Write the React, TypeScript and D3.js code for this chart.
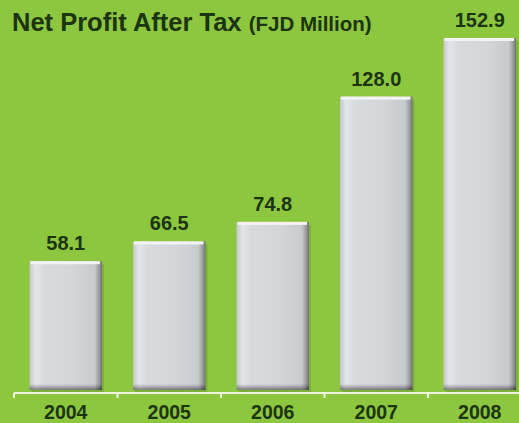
import React, { useEffect, useRef } from 'react';
import * as d3 from 'd3';

const years = ['2004', '2005', '2006', '2007', '2008'];
const profits = [58.1, 66.5, 74.8, 128.0, 152.9];
const valueLabels = ['58.1', '66.5', '74.8', '128.0', '152.9'];

const W = 519;
const H = 423;
const BG = '#8dc63f';
const INK = '#1c3510';
const FONT = 'Arial, "Liberation Sans", sans-serif';

const App: React.FC = () => {
  const svgRef = useRef<SVGSVGElement>(null);

  useEffect(() => {
    if (!svgRef.current) return;
    const svg = d3.select(svgRef.current);
    svg.selectAll('*').remove();

    const baseY = 390;
    const axisY = 393;

    const x = d3
      .scaleBand<string>()
      .domain(years)
      .range([14, 531.5])
      .paddingInner(0.3)
      .paddingOuter(0.15);

    // zero sits a little under the visible baseline, like the original artwork
    const y = d3.scaleLinear().domain([0, 152.9]).range([398, 38]);

    const defs = svg.append('defs');
    const grad = defs
      .append('linearGradient')
      .attr('id', 'barGrad')
      .attr('x1', '0')
      .attr('x2', '1')
      .attr('y1', '0')
      .attr('y2', '0');
    [
      [0, '#c4c6c9'],
      [0.08, '#e4e5e7'],
      [0.2, '#d9dadd'],
      [0.6, '#d3d5d8'],
      [0.9, '#c8cacd'],
      [0.96, '#9a9c9f'],
      [1, '#6f7173'],
    ].forEach(([o, c]) => grad.append('stop').attr('offset', o as number).attr('stop-color', c as string));

    const shade = defs
      .append('linearGradient')
      .attr('id', 'botGrad')
      .attr('x1', '0')
      .attr('x2', '0')
      .attr('y1', '0')
      .attr('y2', '1');
    shade.append('stop').attr('offset', 0).attr('stop-color', '#000').attr('stop-opacity', 0);
    shade.append('stop').attr('offset', 1).attr('stop-color', '#000').attr('stop-opacity', 0.45);

    svg.append('rect').attr('width', W).attr('height', H).attr('fill', BG);

    // title
    const title = svg
      .append('text')
      .attr('x', 12)
      .attr('y', 31)
      .attr('fill', INK)
      .attr('font-family', FONT)
      .attr('font-weight', 'bold');
    title.append('tspan').attr('font-size', 25.5).text('Net Profit After Tax ');
    title.append('tspan').attr('font-size', 20.5).text('(FJD Million)');

    const data = years.map((yr, i) => ({ yr, v: profits[i], label: valueLabels[i] }));
    const bw = x.bandwidth();

    const g = svg.append('g');

    // soft shadow to the right
    g.selectAll('.shadow')
      .data(data)
      .join('rect')
      .attr('x', (d) => (x(d.yr) || 0) + 2)
      .attr('y', (d) => y(d.v) + 3)
      .attr('width', bw)
      .attr('height', (d) => baseY - y(d.v))
      .attr('fill', '#5f8a2a')
      .attr('opacity', 0.35);

    g.selectAll('.bar')
      .data(data)
      .join('rect')
      .attr('x', (d) => x(d.yr) || 0)
      .attr('y', (d) => y(d.v))
      .attr('width', bw)
      .attr('height', (d) => baseY - y(d.v))
      .attr('fill', 'url(#barGrad)');

    // top highlight
    g.selectAll('.top')
      .data(data)
      .join('rect')
      .attr('x', (d) => (x(d.yr) || 0) + 1)
      .attr('y', (d) => y(d.v))
      .attr('width', bw - 3)
      .attr('height', 3)
      .attr('fill', '#f4f4f6');

    // bottom shade
    g.selectAll('.bot')
      .data(data)
      .join('rect')
      .attr('x', (d) => x(d.yr) || 0)
      .attr('y', baseY - 6)
      .attr('width', bw)
      .attr('height', 6)
      .attr('fill', 'url(#botGrad)');

    // value labels
    g.selectAll('.val')
      .data(data)
      .join('text')
      .attr('x', (d) => (x(d.yr) || 0) + bw / 2)
      .attr('y', (d) => y(d.v) - 11)
      .attr('text-anchor', 'middle')
      .attr('fill', INK)
      .attr('font-family', FONT)
      .attr('font-weight', 'bold')
      .attr('font-size', 20)
      .text((d) => d.label);

    // axis
    const step = x.step();
    const ax = svg.append('g').attr('stroke', '#eef4dc').attr('stroke-width', 2);
    ax.append('line').attr('x1', 14).attr('x2', W).attr('y1', axisY).attr('y2', axisY);
    ax.selectAll('.tick')
      .data(years)
      .join('line')
      .attr('x1', (d) => (x(d) || 0) - step * 0.15)
      .attr('x2', (d) => (x(d) || 0) - step * 0.15)
      .attr('y1', axisY)
      .attr('y2', axisY + 5);

    svg
      .append('g')
      .selectAll('text')
      .data(years)
      .join('text')
      .attr('x', (d) => (x(d) || 0) + bw / 2)
      .attr('y', 419)
      .attr('text-anchor', 'middle')
      .attr('fill', INK)
      .attr('font-family', FONT)
      .attr('font-weight', 'bold')
      .attr('font-size', 19.5)
      .text((d) => d);
  }, []);

  return (
    <div style={{ position: 'absolute', left: 0, top: 0 }}>
      <svg ref={svgRef} width={W} height={H} style={{ display: 'block' }} />
    </div>
  );
};

export default App;
